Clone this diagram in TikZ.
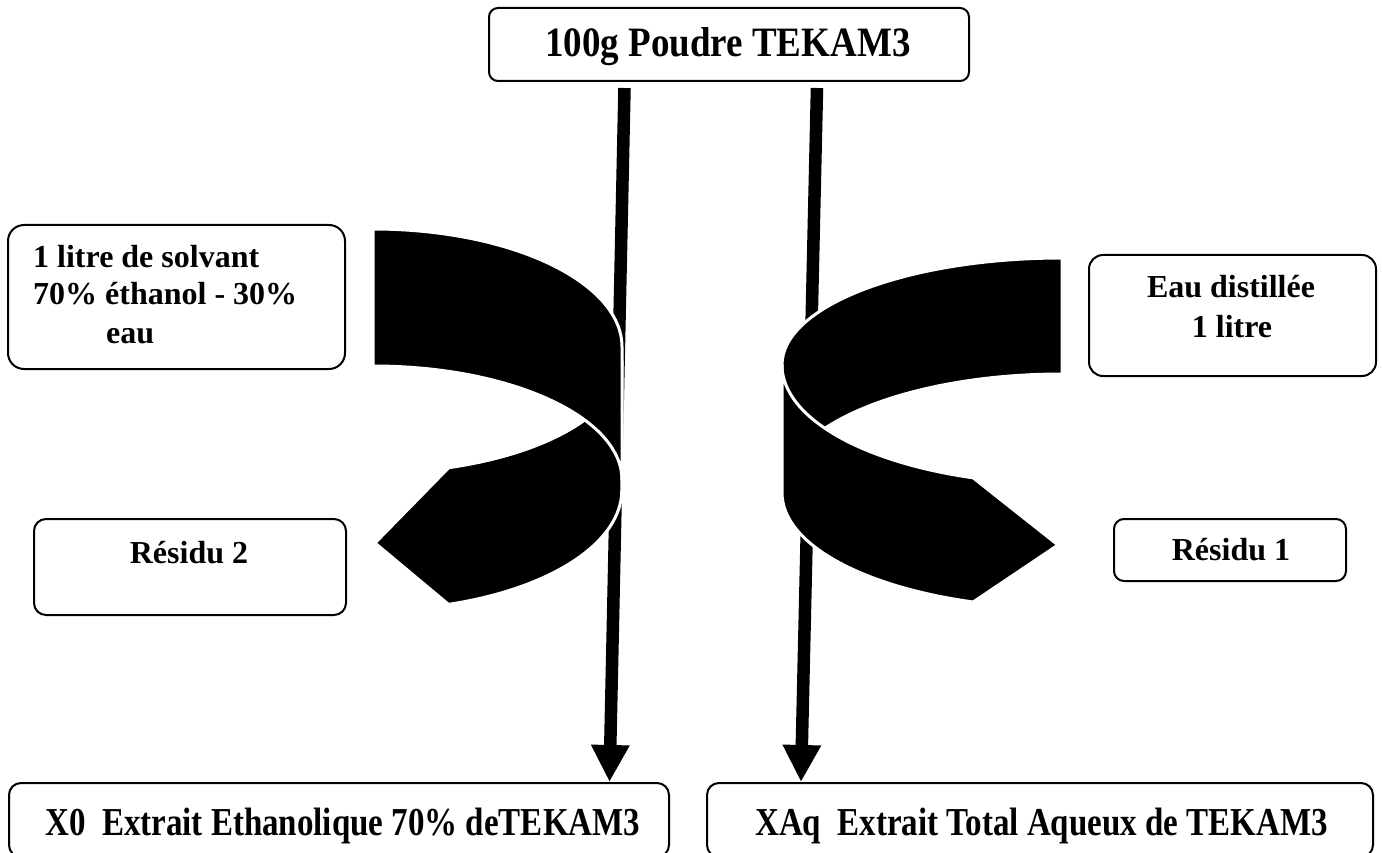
\documentclass[tikz,border=0pt]{standalone}
\usepackage{fontspec}
\setmainfont{Liberation Serif}
\usepackage{graphicx}
\usetikzlibrary{arrows.meta,calc}
\begin{document}
\begin{tikzpicture}[x=1pt,y=-1pt,
  box/.style={draw=black, line width=2pt, rounded corners=12pt, fill=white, inner sep=0pt, anchor=north west},
  lbl/.style={inner sep=0pt, font=\bfseries\fontsize{32}{38}\selectfont},
  big/.style={inner sep=0pt, font=\bfseries\fontsize{37}{44}\selectfont},
  bot/.style={inner sep=0pt, font=\bfseries\fontsize{33}{40}\selectfont},
  ribbon/.style={fill=black, draw=white, line width=3pt, line join=round},
  flow/.style={line width=12.5pt, -{Triangle[length=37pt,width=36pt]}}]
\useasboundingbox (0,0) rectangle (1382,853);
\fill[white] (0,0) rectangle (1382,853);

% boxes
\node[box, minimum width=480pt, minimum height=73pt, rounded corners=9pt] (top) at (488,7) {};
\node[box, minimum width=337pt, minimum height=144pt, rounded corners=16pt] (solv) at (7,224) {};
\node[box, minimum width=312pt, minimum height=96pt] (res2) at (33,518) {};
\node[box, minimum width=287pt, minimum height=121pt, rounded corners=14pt] (eau) at (1088,254) {};
\node[box, minimum width=232pt, minimum height=62pt, rounded corners=10pt] (res1) at (1113,518) {};
\node[box, minimum width=660pt, minimum height=74pt] (x0) at (8,782) {};
\node[box, minimum width=666pt, minimum height=74pt] (xaq) at (706,782) {};

% texts
\node[big, anchor=base] (ttop) at (728,57) {\scalebox{1}[1.13]{100g Poudre TEKAM3}};
\node[lbl, anchor=base west] (ts1) at (33,268) {1 litre de solvant};
\node[lbl, anchor=base west] (ts2) at (33,305) {70\% éthanol - 30\%};
\node[lbl, anchor=base west] (ts3) at (106,343) {eau};
\node[lbl, anchor=base] (tr2) at (189,563) {Résidu 2};
\node[lbl, anchor=base] (te1) at (1231,298) {Eau distillée};
\node[lbl, anchor=base] (te2) at (1232,337) {1 litre};
\node[lbl, anchor=base] (tr1) at (1231,560) {Résidu 1};
\node[bot, anchor=base west] (tx0) at (45,835) {\scalebox{1}[1.2]{X0\ \ Extrait Ethanolique 70\% deTEKAM3}};
\node[bot, anchor=base west] (txaq) at (755,835) {\scalebox{1}[1.2]{XAq\ \ Extrait Total Aqueux de TEKAM3}};

% vertical flows
\draw[flow] ($(top.south west)+(136.5,6)$) -- ($(x0.north west)+(601.5,0)$);
\draw[flow] ($(top.south west)+(329,6)$) -- ($(xaq.north west)+(95,0)$);

% left curved arrow: lower (back) ribbon then upper (front) ribbon
\path[ribbon] (622,361) arc[start angle=0, end angle=72.3, x radius=249, y radius=112]
  -- (375,543) -- (448.5,604.4)
  arc[start angle=72.3, end angle=0, x radius=249, y radius=120] -- cycle;
\path[ribbon] (373,229) arc[start angle=-90, end angle=0, x radius=249, y radius=118]
  -- (622,480) arc[start angle=0, end angle=-90, x radius=249, y radius=114] -- cycle;

% right curved arrow: upper (back) ribbon then lower (front) ribbon
\path[ribbon] (1062,258) arc[start angle=-90, end angle=-180, x radius=280, y radius=107]
  -- (782,490) arc[start angle=180, end angle=270, x radius=280, y radius=116] -- cycle;
\path[ribbon] (782,365) arc[start angle=180, end angle=108.5, x radius=280, y radius=119]
  -- (1058,545) -- (973.2,602)
  arc[start angle=108.5, end angle=180, x radius=280, y radius=115] -- cycle;
\end{tikzpicture}
\end{document}
